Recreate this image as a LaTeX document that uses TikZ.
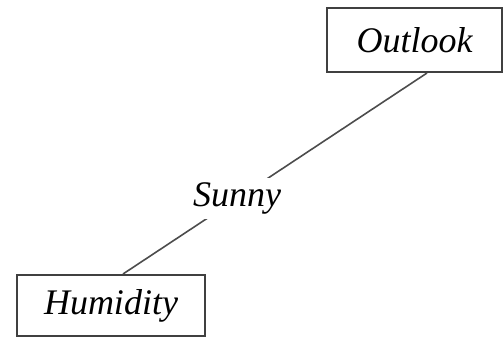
\documentclass[tikz,border=0pt]{standalone}
\usepackage{fontspec}
\setmainfont{Liberation Serif}

\begin{document}
\begin{tikzpicture}[x=0.5pt, y=-0.5pt,
  attr/.style={rectangle, draw=black!75, line width=1pt, inner sep=0pt,
               font=\fontsize{18}{22}\selectfont\itshape},
  branch/.style={draw=black!70, line width=0.8pt},
  val/.style={font=\fontsize{18}{22}\selectfont\itshape, fill=white, inner sep=2.5pt},
]
  \useasboundingbox (0,0) rectangle (503,337);
  \node[attr, minimum width=87.5pt, minimum height=32pt] (outlook) at (414.5,40) {Outlook};
  \node[attr, minimum width=94pt, minimum height=30.5pt] (humidity) at (111,305.5) {Humidity};

  \draw[branch] ([xshift=6.25pt]outlook.south) --
    node[val, pos=0.625] {Sunny} ([xshift=6pt]humidity.north);
\end{tikzpicture}
\end{document}
